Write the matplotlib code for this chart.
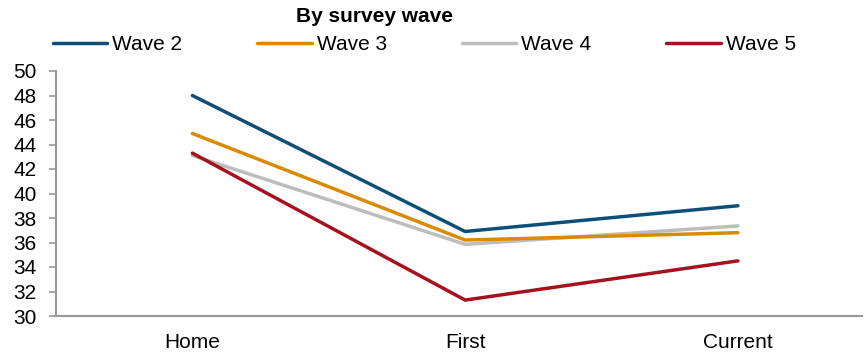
import matplotlib
matplotlib.use("Agg")
import matplotlib.pyplot as plt

plt.rcParams['font.family'] = ['Liberation Sans', 'DejaVu Sans']

categories = ["Home", "First", "Current"]
series_names = ["Wave 2", "Wave 3", "Wave 4", "Wave 5"]
wave2 = [48.0, 36.9, 39.0]
wave3 = [44.9, 36.2, 36.8]
wave4 = [43.1, 35.85, 37.35]
wave5 = [43.3, 31.3, 34.5]
y_ticks = list(range(30, 51, 2))

colors = ["#0d4f78", "#d98a00", "#bdbdbd", "#a6111f"]
series = [wave2, wave3, wave4, wave5]

FS = 15

fig = plt.figure(figsize=(8.66, 3.53), dpi=100)
ax = fig.add_axes([56 / 866, 1 - 316 / 353, (862 - 56) / 866, (316 - 71) / 353])

x = list(range(len(categories)))
# gray line drawn beneath the others so the overlaps read correctly
order = [2, 0, 1, 3]
lines = {}
for i in order:
    ln, = ax.plot(x, series[i], color=colors[i], lw=2.5, solid_capstyle='round',
                  solid_joinstyle='miter', label=series_names[i], zorder=3)
    lines[i] = ln

ax.set_ylim(30, 50)
ax.set_xlim(-0.5, 2.455)
ax.set_yticks(y_ticks)
ax.set_xticks(x)
ax.set_xticklabels(categories)

for s in ['top', 'right']:
    ax.spines[s].set_visible(False)
for s in ['left', 'bottom']:
    ax.spines[s].set_color('#9a9a9a')
    ax.spines[s].set_linewidth(1.5)

ax.tick_params(axis='y', length=5, width=1.2, color='#9a9a9a', pad=9, labelsize=FS)
ax.tick_params(axis='x', length=0, pad=12, labelsize=FS)

fig.text(375 / 866, 1 - 17 / 353, "By survey wave", ha='center', va='center',
         fontsize=FS, fontweight='bold')

fig.legend([lines[i] for i in range(4)], series_names, ncol=4,
           loc='center left', bbox_to_anchor=(53 / 866, 1 - 45 / 353),
           frameon=False, fontsize=FS, handlelength=2.6, handletextpad=0.25,
           columnspacing=3.6, borderpad=0, borderaxespad=0)

fig.savefig("out.png", dpi=100)
